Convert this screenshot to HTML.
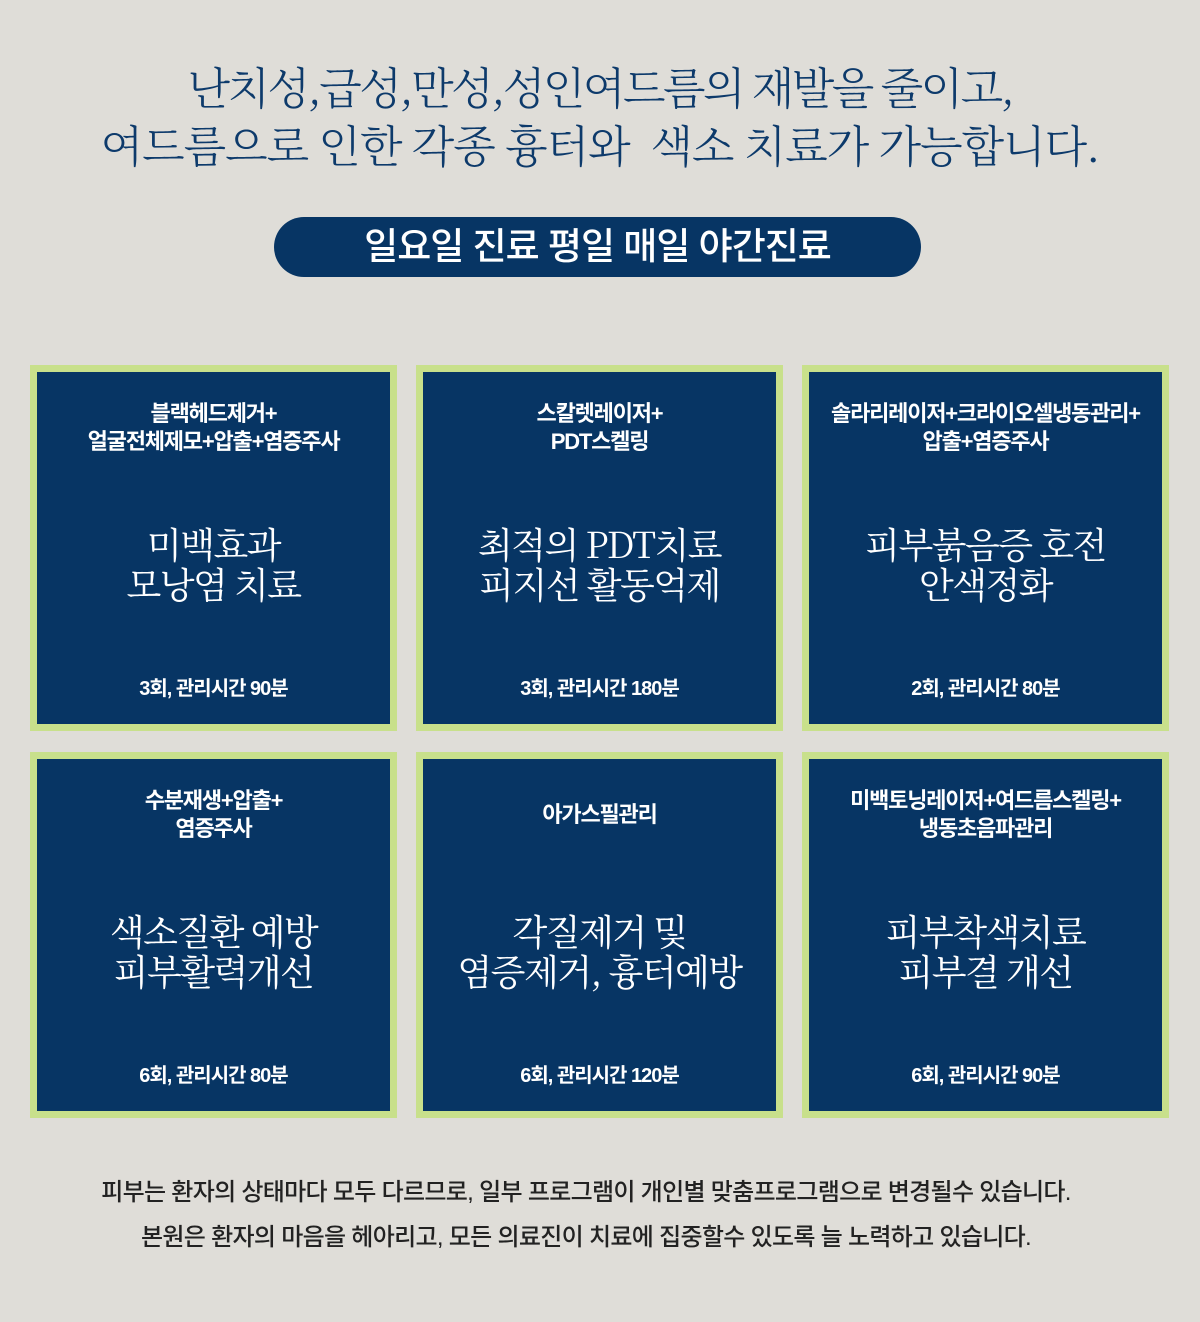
<!DOCTYPE html>
<html><head><meta charset="utf-8"><style>
*{margin:0;padding:0;box-sizing:border-box}
body{width:1200px;height:1322px;background:#dfddd8;position:relative;overflow:hidden;font-family:"Liberation Sans","Noto Sans CJK KR",sans-serif}
.t{position:absolute;left:0;width:1200px;text-align:center;font-family:"Noto Serif CJK KR","Noto Serif CJK SC",serif;color:#0d3a6b;font-size:44px;line-height:58px;letter-spacing:-1px;font-weight:300}
.pill{position:absolute;left:274px;top:217px;width:647px;height:60px;border-radius:30px;background:#073564;color:#fff;font-size:37px;font-weight:500;text-align:center;line-height:60px;letter-spacing:-1px}
.b{position:absolute;width:367px;height:366px;background:#073564;border:7px solid #c8e08b;color:#fff;text-align:center}
.h{position:absolute;left:0;right:0;top:28px;font-size:22px;font-weight:bold;line-height:28px;letter-spacing:-1.2px}
.h.one{top:42px}
.m{position:absolute;left:0;right:0;top:152px;font-family:"Noto Serif CJK KR","Noto Serif CJK SC",serif;font-size:36px;line-height:40px;letter-spacing:-1.5px}
.f{position:absolute;left:0;right:0;top:300px;font-size:20px;font-weight:bold;letter-spacing:-1px}
.bt{position:absolute;left:0;width:1172px;text-align:center;font-size:24px;font-weight:500;color:#222;letter-spacing:-0.7px;line-height:45px;top:1170px}
</style></head><body>
<div class="t" style="top:56px;letter-spacing:-2.5px">난치성,급성,만성,성인여드름의 재발을 줄이고,</div>
<div class="t" style="top:114px">여드름으로 인한 각종 흉터와&nbsp; 색소 치료가 가능합니다.</div>
<div class="pill">일요일 진료 평일 매일 야간진료</div>

<div class="b" style="left:30px;top:365px"><div class="h">블랙헤드제거+<br>얼굴전체제모+압출+염증주사</div><div class="m">미백효과<br>모낭염 치료</div><div class="f">3회, 관리시간 90분</div></div>
<div class="b" style="left:416px;top:365px"><div class="h">스칼렛레이저+<br>PDT스켈링</div><div class="m">최적의 PDT치료<br>피지선 활동억제</div><div class="f">3회, 관리시간 180분</div></div>
<div class="b" style="left:802px;top:365px"><div class="h">솔라리레이저+크라이오셀냉동관리+<br>압출+염증주사</div><div class="m">피부붉음증 호전<br>안색정화</div><div class="f">2회, 관리시간 80분</div></div>

<div class="b" style="left:30px;top:752px"><div class="h">수분재생+압출+<br>염증주사</div><div class="m">색소질환 예방<br>피부활력개선</div><div class="f">6회, 관리시간 80분</div></div>
<div class="b" style="left:416px;top:752px"><div class="h one">아가스필관리</div><div class="m">각질제거 및<br>염증제거, 흉터예방</div><div class="f">6회, 관리시간 120분</div></div>
<div class="b" style="left:802px;top:752px"><div class="h">미백토닝레이저+여드름스켈링+<br>냉동초음파관리</div><div class="m">피부착색치료<br>피부결 개선</div><div class="f">6회, 관리시간 90분</div></div>

<div class="bt">피부는 환자의 상태마다 모두 다르므로, 일부 프로그램이 개인별 맞춤프로그램으로 변경될수 있습니다.<br>본원은 환자의 마음을 헤아리고, 모든 의료진이 치료에 집중할수 있도록 늘 노력하고 있습니다.</div>
</body></html>
